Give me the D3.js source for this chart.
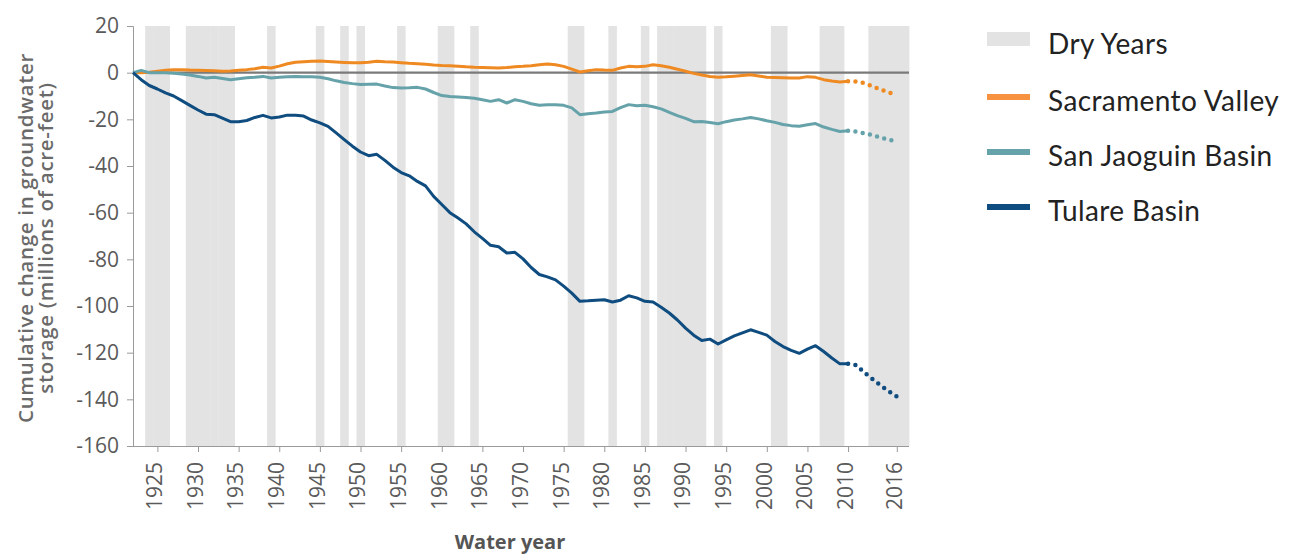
<!DOCTYPE html>
<meta charset="utf-8">
<head>
    <title>Groundwater storage</title>
</head>
<style>
    body { margin: 0; background: #fff; }
    .tick text { font-family: "Open Sans", sans-serif; fill: #5a5a5a; }
</style>
<div id="chart"></div>
<script src="https://d3js.org/d3.v7.min.js"></script>
<script>

    // water years 1922-2010 (measured), then 2010-2016 (dotted estimate)
    var years = d3.range(1922, 2011);
    var projYears = [2010, 2011, 2012, 2013, 2014, 2015, 2016];

    var sacramento = [0, 0, 0.2, 0.6, 1, 1.2, 1.3, 1.1, 1, 0.9,
        0.8, 0.6, 0.7, 1, 1.3, 1.7, 2.3, 2, 2.8, 3.8,
        4.5, 4.7, 4.9, 5, 4.8, 4.6, 4.4, 4.2, 4.2, 4.5,
        4.9, 4.7, 4.6, 4.3, 4, 3.8, 3.6, 3.3, 3.1, 3,
        2.8, 2.5, 2.3, 2.2, 2.1, 2, 2.2, 2.5, 2.7, 3,
        3.4, 3.7, 3.4, 2.7, 1.5, 0.3, 0.8, 1.3, 1.1, 1,
        2, 2.7, 2.5, 2.7, 3.4, 3, 2.3, 1.5, 0.6, -0.3,
        -1, -1.6, -2, -1.8, -1.5, -1.2, -0.9, -1.4, -2, -2.1,
        -2.2, -2.3, -2.3, -1.7, -2, -3, -3.6, -4, -3.7];
    var sacramentoProj = [-3.7, -3.8, -4.5, -5.8, -7.2, -8.5, -9.5];

    var sanJoaquin = [0, 1, 0, 0, 0, -0.3, -0.6, -1, -1.6, -2.3,
        -2, -2.5, -3, -2.6, -2.2, -2, -1.6, -2.3, -2, -1.7,
        -1.6, -1.7, -1.8, -2, -2.6, -3.5, -4.2, -4.7, -5.1, -5,
        -4.9, -5.7, -6.4, -6.6, -6.5, -6.3, -7, -8.5, -9.8, -10.2,
        -10.4, -10.6, -11, -11.6, -12.3, -11.6, -13, -11.6, -12.3, -13.3,
        -14, -13.8, -13.7, -14, -15.1, -18, -17.6, -17.3, -16.9, -16.6,
        -15, -13.7, -14.2, -14, -14.6, -15.5, -17, -18.4, -19.6, -21,
        -20.9, -21.4, -21.9, -21, -20.3, -19.8, -19.2, -19.8, -20.6, -21.3,
        -22.2, -22.7, -23, -22.3, -21.8, -23.3, -24.3, -25.2, -24.9];
    var sanJoaquinProj = [-24.9, -25.3, -26, -26.8, -27.8, -28.7, -29.5];

    var tulare = [0, -3, -5.5, -7, -8.7, -10, -12, -14, -16, -17.8,
        -18, -19.5, -21, -21, -20.5, -19.2, -18.3, -19.4, -19, -18.2,
        -18.3, -18.6, -20.3, -21.5, -23, -25.8, -28.7, -31.5, -34, -35.6,
        -35, -37.6, -40.5, -42.8, -44.2, -46.6, -48.5, -53, -56.5, -60,
        -62.3, -64.8, -68.2, -71, -74, -74.6, -77.3, -77, -79.8, -83.5,
        -86.5, -87.5, -88.8, -91.5, -94.5, -98, -97.8, -97.5, -97.3, -98.3,
        -97.5, -95.6, -96.5, -98, -98.3, -100.5, -103, -106, -109.5, -112.5,
        -114.8, -114.2, -116.3, -114.5, -112.8, -111.5, -110.2, -111.3, -112.5, -115.2,
        -117.4, -119, -120.3, -118.5, -117, -119.5, -122.3, -124.8, -124.8];
    var tulareProj = [-124.8, -125.3, -128.5, -131.3, -134, -136.5, -138.8];

    var dryYears = [1924, 1925, 1926, 1929, 1930, 1931, 1932, 1933, 1934, 1939,
        1945, 1948, 1950, 1955, 1960, 1961, 1964, 1976, 1977, 1981,
        1985, 1987, 1988, 1989, 1990, 1991, 1992, 1994, 2001, 2002,
        2007, 2008, 2009, 2013, 2014, 2015, 2016, 2017];

    var xTicks = [1925, 1930, 1935, 1940, 1945, 1950, 1955, 1960, 1965, 1970,
        1975, 1980, 1985, 1990, 1995, 2000, 2005, 2010, 2016];
    var yTicks = [20, 0, -20, -40, -60, -80, -100, -120, -140, -160];

    var seriesNames = ["Sacramento Valley", "San Jaoguin Basin", "Tulare Basin"];
    var seriesColors = ["#ef8a22", "#66a2aa", "#0f4c7f"];
    var legendColors = ["#f79240", "#66a2aa", "#0f4c7f"];

    var margin = {top: 26, right: 385, bottom: 110, left: 133},
        width = 1294 - margin.left - margin.right,
        height = 556 - margin.top - margin.bottom;

    var svg = d3.select("#chart")
      .append("svg")
        .attr("width", 1294)
        .attr("height", 556)
      .append("g")
        .attr("transform", "translate(" + margin.left + "," + margin.top + ")");

    var x = d3.scaleLinear().domain([1922, 2017.5]).range([0, width]);
    var y = d3.scaleLinear().domain([20, -160]).range([0, height]);

    // dry year bands
    svg.append("g")
      .selectAll("rect")
      .data(dryYears)
      .enter().append("rect")
        .attr("x", function(d) { return x(d - 0.5); })
        .attr("width", function(d) { return Math.min(x(d + 0.5), width) - x(d - 0.5) + 0.4; })
        .attr("y", 0)
        .attr("height", height)
        .attr("fill", "#e3e3e3");

    // axes (plain hyphen for negatives, like the original)
    var yAxis = svg.append("g")
        .call(d3.axisLeft(y).tickValues(yTicks).tickFormat(function(d) { return String(d); })
            .tickSize(6).tickPadding(8));
    yAxis.selectAll("text").style("font-size", "21px");

    var xAxis = svg.append("g")
        .attr("transform", "translate(0," + height + ")")
        .call(d3.axisBottom(x).tickValues(xTicks).tickFormat(function(d) { return String(d); }).tickSize(6));
    xAxis.selectAll("text")
        .style("font-size", "21px")
        .style("text-anchor", "end")
        .attr("transform", "rotate(-90)")
        .attr("x", -16)
        .attr("y", -3)
        .attr("dy", "0.35em");
    xAxis.select(".domain").attr("d", "M-6,0.5H" + width);

    svg.selectAll(".domain, .tick line").attr("stroke", "#9a9a9a");

    // zero line
    svg.append("line")
        .attr("x1", 0).attr("x2", width)
        .attr("y1", y(0)).attr("y2", y(0))
        .attr("stroke", "#7a7a7a")
        .attr("stroke-width", 2.2);

    var line = d3.line()
        .x(function(d) { return x(d[0]); })
        .y(function(d) { return y(d[1]); });

    var measured = [sacramento, sanJoaquin, tulare];
    var projected = [sacramentoProj, sanJoaquinProj, tulareProj];

    measured.forEach(function(vals, i) {
        svg.append("path")
            .datum(years.map(function(yr, j) { return [yr, vals[j]]; }))
            .attr("fill", "none")
            .attr("stroke", seriesColors[i])
            .attr("stroke-width", 3)
            .attr("stroke-linejoin", "round")
            .attr("d", line);
        svg.append("path")
            .datum(projYears.map(function(yr, j) { return [yr, projected[i][j]]; }))
            .attr("fill", "none")
            .attr("stroke", seriesColors[i])
            .attr("stroke-width", 4.5)
            .attr("stroke-linecap", "round")
            .attr("stroke-dasharray", "0 7.4")
            .attr("stroke-dashoffset", -7.4)
            .attr("d", line);
    });

    // axis titles
    var yTitle = svg.append("text")
        .attr("transform", "translate(" + (33 - margin.left) + "," + (238 - margin.top) + ") rotate(-90)")
        .attr("text-anchor", "middle")
        .style("font-family", "'Open Sans', sans-serif")
        .style("font-weight", 600)
        .style("font-size", "20.5px")
        .style("letter-spacing", "0.7px")
        .style("fill", "#6a6a6a");
    yTitle.append("tspan").attr("x", 0).attr("y", 0).text("Cumulative change in groundwater");
    yTitle.append("tspan").attr("x", 0).attr("y", 20).text("storage (millions of acre-feet)");

    svg.append("text")
        .attr("x", 510 - margin.left)
        .attr("y", 549 - margin.top)
        .attr("text-anchor", "middle")
        .style("font-family", "'Open Sans', sans-serif")
        .style("font-weight", 700)
        .style("font-size", "20px")
        .style("fill", "#555")
        .text("Water year");

    // legend
    var legend = svg.append("g")
        .attr("transform", "translate(" + (987 - margin.left) + "," + (0 - margin.top) + ")");

    legend.append("rect")
        .attr("x", 0).attr("y", 32)
        .attr("width", 43).attr("height", 14)
        .attr("fill", "#e3e3e3");
    legend.append("text")
        .attr("x", 61).attr("y", 54)
        .text("Dry Years");

    seriesNames.forEach(function(name, i) {
        var ly = 97 + i * 55;
        legend.append("rect")
            .attr("x", 0).attr("y", ly - 3)
            .attr("width", 43).attr("height", 6)
            .attr("fill", legendColors[i]);
        legend.append("text")
            .attr("x", 61).attr("y", ly + 14)
            .text(name);
    });

    legend.selectAll("text")
        .style("font-family", "Lato, sans-serif")
        .style("font-size", "28px")
        .style("letter-spacing", "0.4px")
        .style("fill", "#222");

</script>
